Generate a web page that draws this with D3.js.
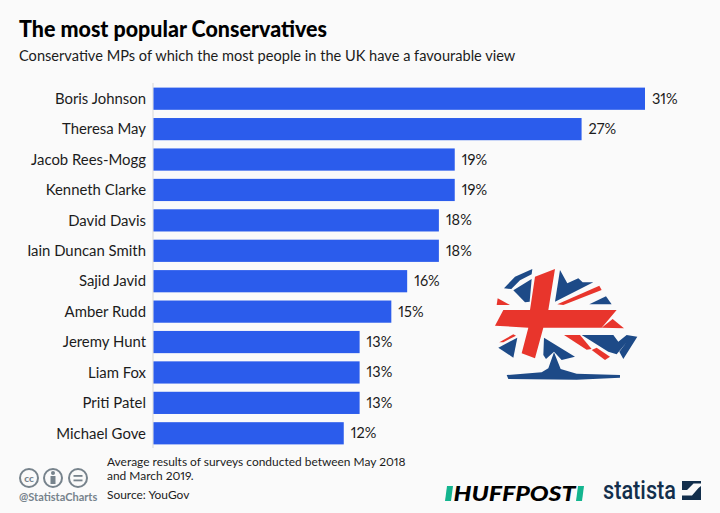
<!DOCTYPE html>
<html>
<head>
<meta charset="utf-8">
<script src="https://cdn.jsdelivr.net/npm/d3@7"></script>
<style>
    html, body { margin: 0; padding: 0; background: #fafafa; }
    svg { display: block; }
    text { font-family: Lato, "Open Sans", sans-serif; fill: #1c1c1c; font-feature-settings: "pnum"; }
    .axis path, .axis line { display: none; }
</style>
</head>
<body>
<svg id="chart" width="720" height="513"></svg>
<script>
const names = ['Boris Johnson', 'Theresa May', 'Jacob Rees-Mogg', 'Kenneth Clarke', 'David Davis',
    'Iain Duncan Smith', 'Sajid Javid', 'Amber Rudd', 'Jeremy Hunt', 'Liam Fox', 'Priti Patel', 'Michael Gove'];
const favourable = [31, 27, 19, 19, 18, 18, 16, 15, 13, 13, 13, 12];
const noteLines = ['Average results of surveys conducted between May 2018', 'and March 2019.'];

const svg = d3.select('#chart');
const rows = names.map((n, i) => ({ name: n, value: favourable[i] }));

// Title block
svg.append('text').attr('x', 19).attr('y', 37)
    .attr('textLength', 308).attr('lengthAdjust', 'spacingAndGlyphs')
    .style('font-size', '23px').style('font-weight', 900).style('fill', '#000')
    .text('The most popular Conservatives');
svg.append('text').attr('x', 19).attr('y', 61)
    .style('font-size', '14.6px')
    .text('Conservative MPs of which the most people in the UK have a favourable view');

// Bars
const x = d3.scaleLinear().domain([0, 31]).range([153.5, 645]);
const y = d3.scaleBand().domain(names).range([83.5, 448.5]).paddingInner(0.27).paddingOuter(0.135);

svg.append('line').attr('x1', 153).attr('x2', 153).attr('y1', 83).attr('y2', 448)
    .attr('stroke', '#d8d8d8').attr('stroke-width', 1);

svg.selectAll('rect.bar').data(rows).enter().append('rect')
    .attr('class', 'bar')
    .attr('x', x(0))
    .attr('y', d => y(d.name))
    .attr('width', d => x(d.value) - x(0))
    .attr('height', y.bandwidth())
    .attr('fill', '#2b5cec');

svg.selectAll('text.val').data(rows).enter().append('text')
    .attr('class', 'val')
    .attr('x', d => x(d.value) + 7)
    .attr('y', d => y(d.name) + y.bandwidth() / 2 + 5)
    .style('font-size', '14.5px')
    .text(d => d.value + '%');

const yAxis = svg.append('g').attr('class', 'axis')
    .attr('transform', 'translate(146,0.5)')
    .call(d3.axisLeft(y).tickSize(0).tickPadding(0));
yAxis.selectAll('text').style('font-size', '14.9px').style('font-family', 'Lato, sans-serif');

// Conservative tree logo, traced in the zoomed crop's pixels
const logo = svg.append('g').attr('transform', 'translate(480,255) scale(0.3333)');
const blue = '#1d4a87', red = '#e8352c';
[
    'M72,100 L105,65 L157,42 L155,58 L120,76 L94,102 Z',
    'M100,106 L155,72 L149,140 L135,142 Z',
    'M240,45 L262,85 L295,70 L308,82 L340,82 L225,140 Z',
    'M328,148 L378,124 L395,148 Z',
    'M305,240 L400,240 L415,260 L440,240 L472,245 L430,312 L418,290 L440,262 L410,298 L385,290 Z',
    'M55,278 L112,248 L100,308 Z',
    'M192,248 L285,305 L245,315 L222,290 L198,312 L190,300 Z',
    'M222,292 L242,342 L290,356 L420,360 L420,368 L290,374 L85,372 L80,360 L185,352 L205,340 Z'
].forEach(d => logo.append('path').attr('d', d).attr('fill', blue));
[
    'M165,65 L225,42 L205,165 L410,165 L365,218 L190,218 L165,310 L125,295 L145,218 L45,212 L70,165 L150,165 Z',
    'M232,148 L358,92 L365,105 L250,150 Z',
    'M365,218 L398,192 L432,220 Z',
    'M50,150 L53,130 L90,150 Z',
    'M58,262 L100,238 L108,242 L70,262 Z',
    'M252,240 L300,240 L335,282 L320,284 Z',
    'M335,285 L350,278 L390,305 L375,315 Z'
].forEach(d => logo.append('path').attr('d', d).attr('fill', red));

// Footer note
svg.selectAll('text.note').data(noteLines).enter().append('text')
    .attr('class', 'note')
    .attr('x', 107)
    .attr('y', (d, i) => 466 + i * 14)
    .style('font-size', '11.95px')
    .text(d => d);
svg.append('text').attr('x', 107).attr('y', 499).style('font-size', '11.95px').text('Source: YouGov');

// Licence icons
const grey = '#77838c';
[29, 53, 78].forEach(cx => {
    svg.append('circle').attr('cx', cx).attr('cy', 478).attr('r', 9)
        .attr('fill', 'none').attr('stroke', grey).attr('stroke-width', 2);
});
svg.append('text').attr('x', 29).attr('y', 482).attr('text-anchor', 'middle')
    .style('font-size', '10px').style('font-weight', 900).style('fill', grey).text('cc');
svg.append('circle').attr('cx', 53).attr('cy', 473).attr('r', 2).attr('fill', grey);
svg.append('rect').attr('x', 50.5).attr('y', 476).attr('width', 5).attr('height', 8).attr('fill', grey);
svg.append('rect').attr('x', 73.5).attr('y', 475).attr('width', 9).attr('height', 1.8).attr('fill', grey);
svg.append('rect').attr('x', 73.5).attr('y', 479.5).attr('width', 9).attr('height', 1.8).attr('fill', grey);
svg.append('text').attr('x', 19).attr('y', 501)
    .style('font-size', '11px').style('font-weight', 700).style('fill', grey).text('@StatistaCharts');

// Huffpost
svg.append('path').attr('d', 'M447,486 L453,486 L451,501 L445,501 Z').attr('fill', '#14b58f');
svg.append('path').attr('d', 'M578,486 L584,486 L582,501 L576,501 Z').attr('fill', '#14b58f');
svg.append('text').attr('x', 514.5).attr('y', 501).attr('text-anchor', 'middle')
    .attr('textLength', 122).attr('lengthAdjust', 'spacingAndGlyphs')
    .style('font-size', '20px').style('font-weight', 900).style('font-style', 'italic').style('fill', '#000')
    .text('HUFFPOST');

// Statista
svg.append('text').attr('x', 603).attr('y', 499)
    .attr('textLength', 73).attr('lengthAdjust', 'spacingAndGlyphs')
    .style('font-size', '26px').style('font-weight', 500).style('font-family', 'Roboto, sans-serif').style('fill', '#132f4c')
    .text('statista');
svg.append('path')
    .attr('d', 'M682,481 H701 V483.5 H693.5 L687,490 H682 Z M701,486 V500 H682 V495.5 H692 L698.5,488 Z')
    .attr('fill', '#132f4c');
</script>
</body>
</html>
